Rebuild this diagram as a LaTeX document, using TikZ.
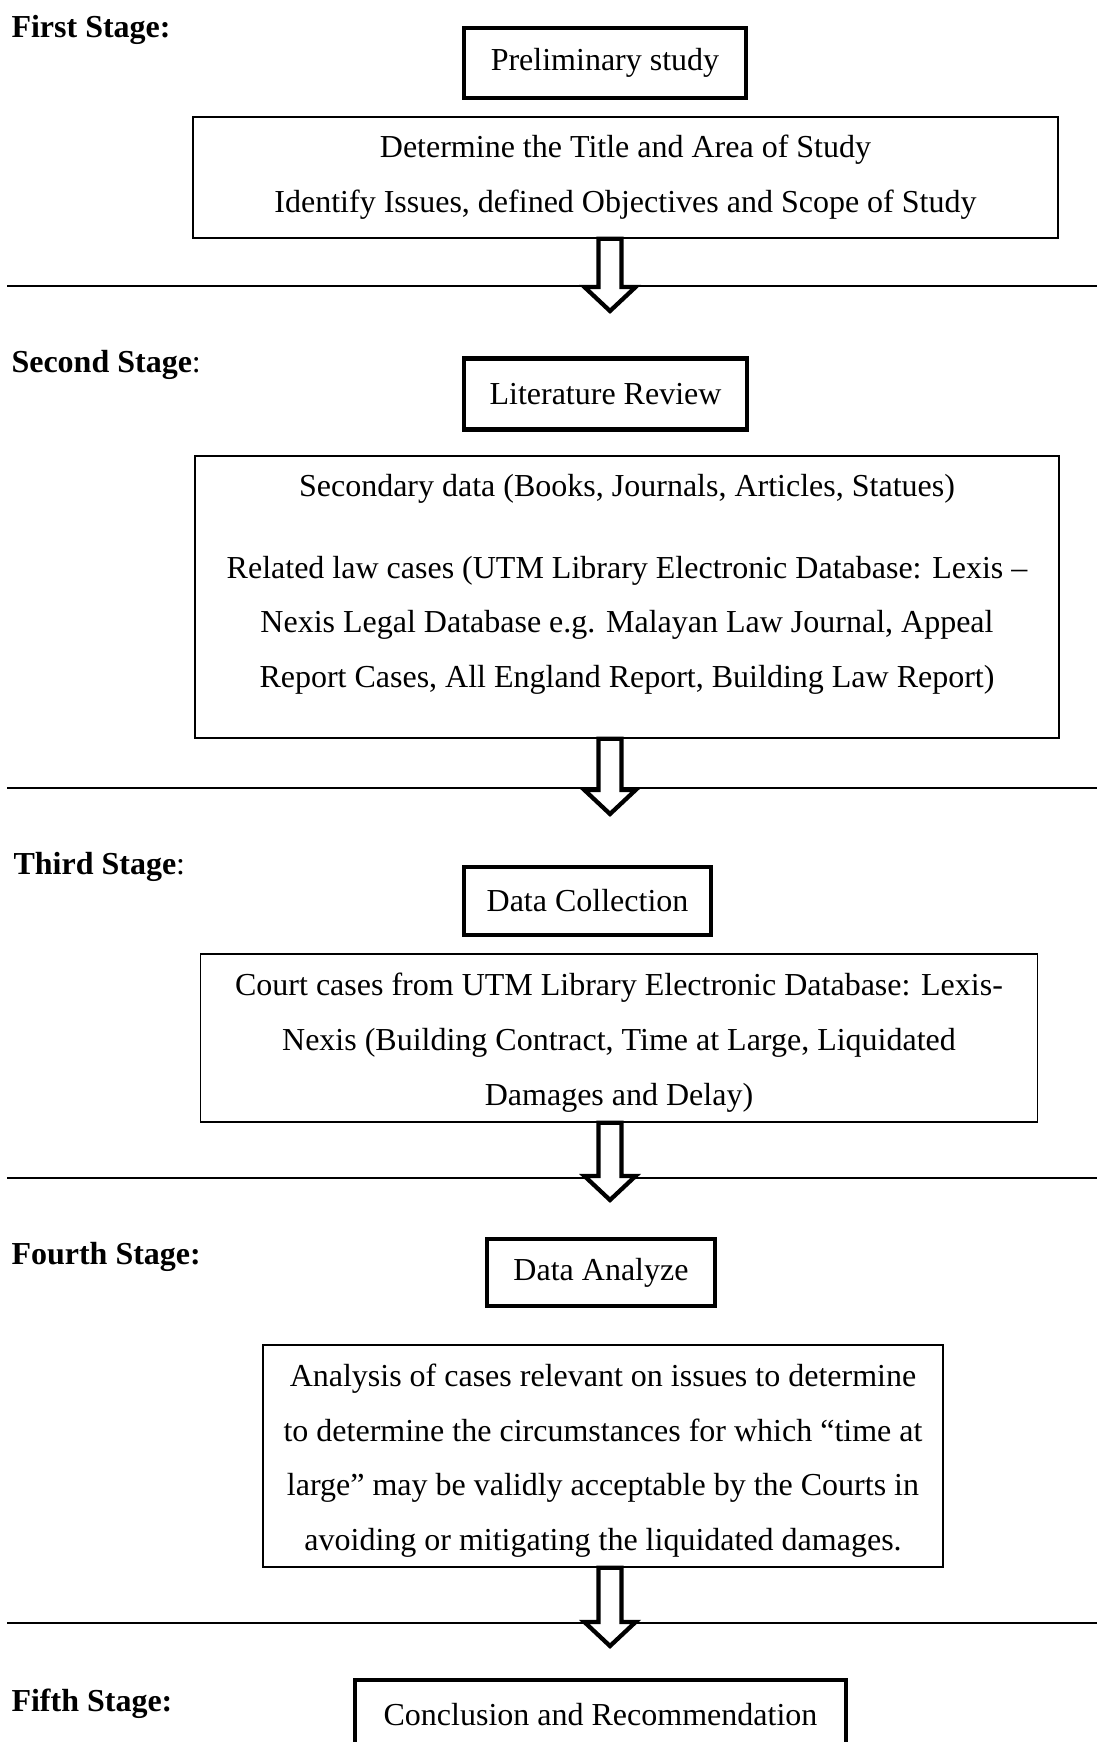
\documentclass[tikz,border=0pt]{standalone}
\usepackage{fontspec}
\setmainfont{Liberation Serif}
\usetikzlibrary{calc,positioning}
\tikzset{
    every node/.append style={font=\fontsize{12}{20.5}\selectfont},
    stagebox/.style={draw, line width=1.6pt, inner sep=0pt},
    textbox/.style={draw, line width=0.5pt, align=center, inner sep=0pt},
    stagelabel/.style={anchor=west, inner sep=0pt},
    rule/.style={line width=0.85pt},
    hollow/.style={line width=1.6pt, fill=white, line join=miter}}
% block arrow from the bottom of box #1 down to coordinate #2
\newcommand{\hollowarrow}[2]{%
    \draw[hollow] let \p1=(#2 |- #1.south), \p2=(#2) in
    (\x1-4.3pt,\y1) -- (\x1-4.3pt,\y2+9pt) -- (\x1-9.6pt,\y2+9pt) -- (\x2,\y2)
    -- (\x1+9.6pt,\y2+9pt) -- (\x1+4.3pt,\y2+9pt) -- (\x1+4.3pt,\y1) -- cycle;}

\begin{document}
\begin{tikzpicture}[x=0.375pt, y=-0.375pt]
    \useasboundingbox (0,0) rectangle (1097,1742);
    \clip (0,0) rectangle (1097,1742);

    % first stage
    \node[stagelabel] (st1) at (11,30) {\textbf{First Stage:}};
    \node[stagebox, minimum width=105.75pt, minimum height=26.25pt] (prelim) at (605,63) {Preliminary study};
    \node[textbox, minimum width=324.4pt, minimum height=45.4pt] (scope) at (625.5,177.5)
        {Determine the Title and Area of Study\\Identify Issues, defined Objectives and Scope of Study};
    \draw[rule] (7,286) -- (1097,286);
    \coordinate (tip1) at (610,311);
    \hollowarrow{scope}{tip1}

    % second stage
    \node[stagelabel] (st2) at (11,365) {\textbf{Second Stage}:};
    \node[stagebox, minimum width=106pt, minimum height=26.6pt] (litrev) at (605.5,394) {Literature Review};
    \node[textbox, minimum width=324pt, minimum height=105.75pt] (sources) at (627,597)
        {Secondary data (Books, Journals, Articles, Statues)\\[10pt]
         Related law cases (UTM Library Electronic Database: Lexis --\\
         Nexis Legal Database e.g. Malayan Law Journal, Appeal\\
         Report Cases, All England Report, Building Law Report)\rule[-12pt]{0pt}{0pt}};
    \draw[rule] (7,788) -- (1097,788);
    \coordinate (tip2) at (610,814);
    \hollowarrow{sources}{tip2}

    % third stage
    \node[stagelabel] (st3) at (13,867) {\textbf{Third Stage}:};
    \node[stagebox, minimum width=92.6pt, minimum height=25.5pt] (collect) at (587.5,901) {Data Collection};
    \node[textbox, minimum width=314pt, minimum height=63pt] (cases) at (619,1038)
        {\rule{0pt}{12pt}Court cases from UTM Library Electronic Database: Lexis-\\
         Nexis (Building Contract, Time at Large, Liquidated\\
         Damages and Delay)};
    \draw[rule] (7,1178) -- (1097,1178);
    \coordinate (tip3) at (610,1200);
    \hollowarrow{cases}{tip3}

    % fourth stage
    \node[stagelabel] (st4) at (11,1257) {\textbf{Fourth Stage:}};
    \node[stagebox, minimum width=85.5pt, minimum height=25.1pt] (analyze) at (601,1272.5) {Data Analyze};
    \node[textbox, minimum width=255pt, minimum height=83.25pt] (analysis) at (603,1456)
        {\rule{0pt}{12pt}Analysis of cases relevant on issues to determine\\
         to determine the circumstances for which ``time at\\
         large'' may be validly acceptable by the Courts in\\
         avoiding or mitigating the liquidated damages.};
    \draw[rule] (7,1623) -- (1097,1623);
    \coordinate (tip4) at (610,1646);
    \hollowarrow{analysis}{tip4}

    % fifth stage
    \node[stagelabel] (st5) at (11,1704) {\textbf{Fifth Stage:}};
    \node[stagebox, minimum width=184pt, minimum height=26.25pt] (concl) at (600.5,1715) {Conclusion and Recommendation};
\end{tikzpicture}
\end{document}
